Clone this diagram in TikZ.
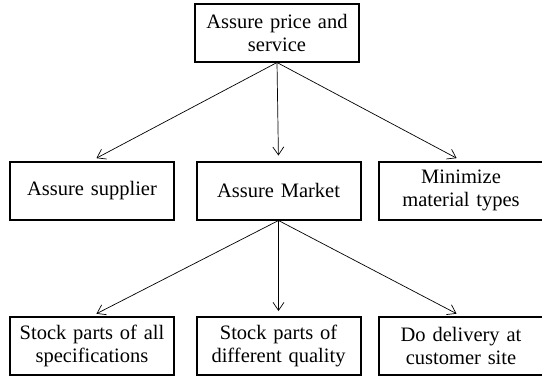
\documentclass[tikz,border=0pt]{standalone}
\usepackage{fontspec}
\setmainfont{Liberation Serif}
\usetikzlibrary{arrows.meta}
\begin{document}
\begin{tikzpicture}[x=1bp,y=-1bp,
  goal/.style={draw, line width=2bp, minimum width=164bp, minimum height=58bp,
    text width=160bp, align=center, inner sep=0pt,
    font=\fontsize{20.5bp}{23bp}\selectfont},
  link/.style={line width=0.7bp, shorten >=5bp,
    -{Straight Barb[length=8bp,width=11bp,line width=0.7bp]}}]
\useasboundingbox (0,0) rectangle (542,377);
% top goal
\node[goal] (top) at (277,32.5) {Assure price and\\service};
% second level
\node[goal] (sup) at (92,190.5) {Assure supplier};
\node[goal] (mkt) at (278.5,190.5) {Assure Market};
\node[goal] (mat) at (461,190.5) {Minimize\\material types};
% third level
\node[goal] (spec) at (92,346) {Stock parts of all\\specifications};
\node[goal] (qual) at (278.5,346) {Stock parts of\\different quality};
\node[goal] (site) at (461,346) {Do delivery at\\customer site};
% connectors
\draw[link] (top.south) -- (sup.north);
\draw[link] (top.south) -- (mkt.north);
\draw[link] (top.south) -- (mat.north);
\draw[link] (mkt.south) -- (spec.north);
\draw[link] (mkt.south) -- (qual.north);
\draw[link] (mkt.south) -- (site.north);
\end{tikzpicture}
\end{document}
